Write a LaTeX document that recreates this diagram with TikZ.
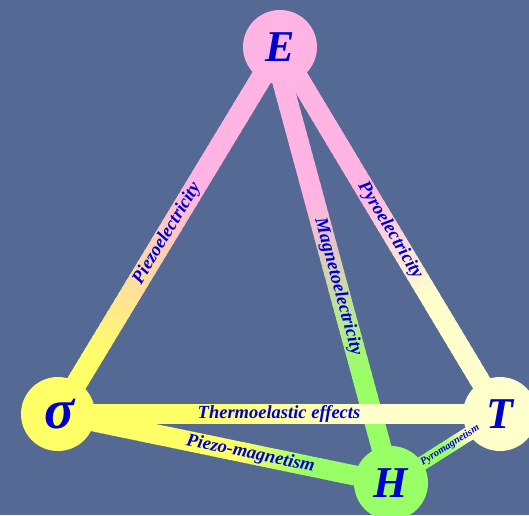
\documentclass[tikz,border=0pt]{standalone}
\usepackage{fontspec}
\setmainfont{Liberation Serif}
\usepackage{xcolor}
\usepackage{tikz}
\usetikzlibrary{calc}

\definecolor{bgblue}{HTML}{546A95}
\definecolor{epink}{HTML}{FFB4E4}
\definecolor{syellow}{HTML}{FFFF66}
\definecolor{tcream}{HTML}{FFFFCC}
\definecolor{hgreen}{HTML}{99FF66}
\definecolor{labelblue}{HTML}{0000CC}

\pgfdeclarelayer{back}
\pgfdeclarelayer{bars}
\pgfsetlayers{back,bars,main}

\newcommand{\bond}[7]{%
  \begin{pgfonlayer}{bars}
  \foreach \i in {0,...,59}{
    \pgfmathsetmacro{\ta}{\i/60}
    \pgfmathsetmacro{\tb}{(\i+1.3)/60}
    \pgfmathsetmacro{\mix}{100*min(1,max(0,((\i+0.5)/60-#6)/(#7-#6)))}
    \draw[line width=#1, #5!\mix!#4] ($(#2)!\ta!(#3)$) -- ($(#2)!\tb!(#3)$);
  }
  \end{pgfonlayer}
}

\begin{document}
\begin{tikzpicture}[
    x=1pt, y=-1pt,
    vertex/.style={
        circle,
        minimum size=74pt,
        inner sep=0pt,
        text=labelblue,
        font=\fontsize{44}{44}\selectfont\bfseries\itshape
    },
    effect/.style={
        sloped,
        inner sep=0pt,
        text=labelblue,
        font=\fontsize{18.5}{18.5}\selectfont\bfseries\itshape
    }
]

\begin{pgfonlayer}{back}
\fill[bgblue] (0,0) rectangle (529,515);
\end{pgfonlayer}
\useasboundingbox (0,0) rectangle (529,515);

\node[vertex, fill=epink] (E) at (280,47) {E};

\node[vertex, fill=syellow, font=\fontsize{56}{56}\selectfont\bfseries\itshape] (S) at (58,414) {\hspace{4pt}σ};

\node[vertex, fill=tcream] (T) at (500,414) {T};

\node[vertex, fill=hgreen] (H) at (391,483) {H};

\coordinate (EH) at ([xshift=-7pt]E.center);

\bond{21pt}{E}{S}{epink}{syellow}{0.38}{0.85}
\bond{20pt}{EH}{H}{epink}{hgreen}{0.35}{0.75}
\bond{20pt}{E}{T}{epink}{tcream}{0.38}{0.68}
\bond{20pt}{S}{T}{syellow}{tcream}{0.32}{0.68}
\bond{20pt}{S}{H}{syellow}{hgreen}{0.55}{0.75}
\bond{14pt}{H}{T}{hgreen}{tcream}{0.50}{0.70}

\path (E) -- (S) node[effect, pos=0.51] (piezoel) {Piezoelectricity};
\path (EH) -- (H) node[effect, pos=0.60] (magnetoel) {Magnetoelectricity};
\path (E) -- (T) node[effect, pos=0.50] (pyroel) {Pyroelectricity};
\path (S) -- (T) node[effect, pos=0.50] (thermoel) {Thermoelastic effects};
\path (S) -- (H) node[effect, pos=0.60] (piezomag) {Piezo-magnetism};
\path (H) -- (T) node[effect, pos=0.60, font=\fontsize{10.5}{10.5}\selectfont\bfseries\itshape] (pyromag) {Pyromagnetism};

\end{tikzpicture}
\end{document}
